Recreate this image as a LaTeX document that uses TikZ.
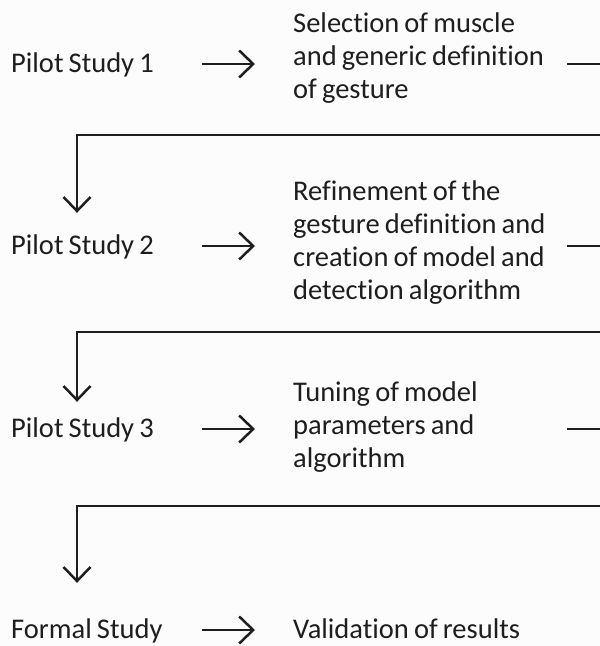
\documentclass[tikz,border=0pt]{standalone}
\usepackage{fontspec}
\setmainfont{Carlito}[Ligatures=NoCommon, WordSpace=0.8]
\usetikzlibrary{arrows.meta,calc}
\definecolor{ink}{RGB}{30,30,30}
\tikzset{
	stage/.style={
		anchor=west, inner sep=0pt, text width=191pt, align=flush left,
		text height=22pt, text depth=6pt,
		font=\fontsize{28.5}{33}\selectfont, text=ink
	},
	task/.style={
		anchor=base west, inner sep=0pt, align=left,
		font=\fontsize{28.5}{33}\selectfont, text=ink
	},
	flow/.style={draw=ink, line width=2.5pt, -{Straight Barb[length=14pt,width=27pt]}}
}

\begin{document}
\begin{tikzpicture}[x=1pt,y=-1pt]
	\fill[gray!2] (0,0) rectangle (600,646);
	\useasboundingbox (0,0) rectangle (600,646);
	\clip (0,0) rectangle (600,646);
	% columns and turning points
	\coordinate (edge) at (567,0);
	\coordinate (t1) at (77,135);
	\coordinate (t2) at (77,332);
	\coordinate (t3) at (77,506);
	% stages
	\node[stage] (p1) at (11,64)  {Pilot Study 1};
	\node[stage] (p2) at (11,246) {Pilot Study 2};
	\node[stage] (p3) at (11,429) {Pilot Study 3};
	\node[stage] (fs) at (11,630) {Formal Study};
	% what each stage does (placed by the last line)
	\node[task] (d1) at (293,98)  {Selection of muscle\\and generic definition\\of gesture};
	\node[task] (d2) at (293,299) {Refinement of the\\gesture definition and\\creation of model and\\detection algorithm};
	\node[task] (d3) at (293,467) {Tuning of model\\parameters and\\algorithm};
	\node[task] (v)  at (293,638) {Validation of results};
	% arrows
	\draw[flow, shorten >=38pt] (p1) -- (p1 -| d1.west);
	\draw[flow, shorten >=38pt] (p2) -- (p2 -| d2.west);
	\draw[flow, shorten >=38pt] (p3) -- (p3 -| d3.west);
	\draw[flow, shorten >=38pt] (fs) -- (fs -| v.west);
	\draw[flow, shorten >=19pt] (p1 -| edge) -- ++(50,0) |- (t1) -- (t1 |- p2.north);
	\draw[flow, shorten >=13pt] (p2 -| edge) -- ++(50,0) |- (t2) -- (t2 |- p3.north);
	\draw[flow, shorten >=33pt] (p3 -| edge) -- ++(50,0) |- (t3) -- (t3 |- fs.north);
\end{tikzpicture}
\end{document}
